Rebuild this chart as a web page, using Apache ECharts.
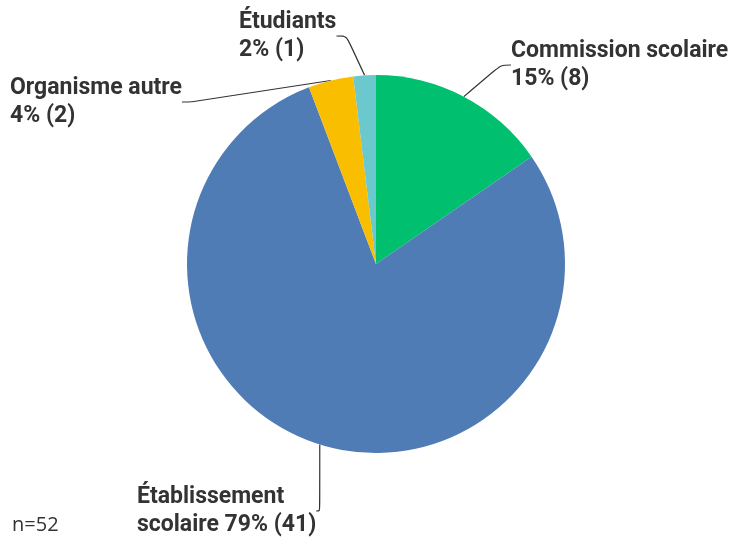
<!DOCTYPE html>
<html>
<head>
<meta charset="utf-8">
<script src="https://cdn.jsdelivr.net/npm/echarts@6/dist/echarts.min.js"></script>
<style>
  html, body { margin: 0; padding: 0; background: #fff; }
  #chart { width: 731px; height: 541px; }
</style>
</head>
<body>
<div id="chart"></div>
<script>
// Répartition des répondants par type d'organisme (n=52)
const categories = ["Commission scolaire", "Établissement scolaire", "Organisme autre", "Étudiants"];
const counts = [8, 41, 2, 1];
const colors = ["#00BF6F", "#507CB6", "#F9BE00", "#6BC8CD"];
// où couper la première ligne de chaque étiquette
const labelBreaks = ["Commission scolaire\n", "Établissement\nscolaire ", "Organisme autre\n", "Étudiants\n"];
// emplacement des étiquettes (coin haut-gauche du texte)
const labelPos = [[511, 37], [137, 483], [10, 74], [239, 8]];

const chart = echarts.init(document.getElementById("chart"));
chart.setOption({
  animation: false,
  color: colors,
  graphic: [{
    type: "text", left: 12, top: 515,
    style: { text: "n=52", fontFamily: "Open Sans", fontSize: 20, fill: "#333" }
  }],
  series: [{
    type: "pie",
    center: [376, 264],
    radius: 189,
    startAngle: 90,
    clockwise: true,
    percentPrecision: 0,
    data: categories.map((c, i) => ({ name: c, value: counts[i] })),
    itemStyle: { borderWidth: 0 },
    emphasis: { disabled: true },
    label: {
      show: true,
      position: "outside",
      formatter: p => `${labelBreaks[p.dataIndex]}${p.percent}% (${p.value})`,
      fontFamily: "Roboto",
      fontWeight: "bold",
      fontSize: 23,
      lineHeight: 28,
      color: "#333",
      align: "left"
    },
    labelLine: {
      show: true,
      length: 12,
      length2: 10,
      smooth: 0.3,
      lineStyle: { color: "#333", width: 1.2 }
    },
    labelLayout: p => ({
      x: labelPos[p.dataIndex][0],
      y: labelPos[p.dataIndex][1],
      align: "left",
      verticalAlign: "top"
    })
  }]
});
</script>
</body>
</html>
